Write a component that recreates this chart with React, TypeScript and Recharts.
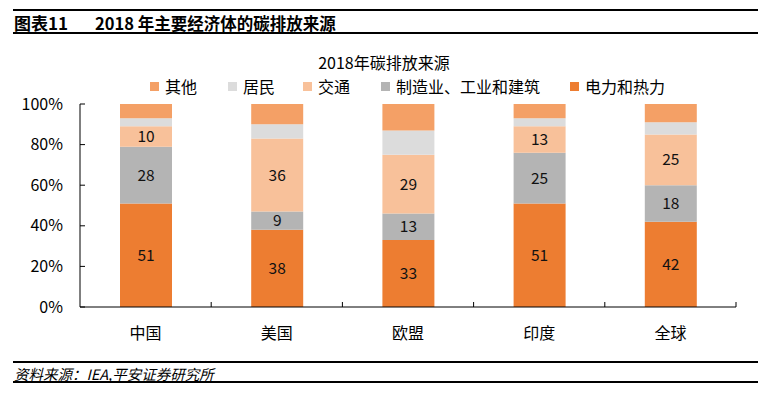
import React from 'react'
import { BarChart, Bar, XAxis, YAxis, LabelList } from 'recharts'

// 2018年碳排放来源 (%)
const regions = ['中国', '美国', '欧盟', '印度', '全球']
const power = [51, 38, 33, 51, 42]        // 电力和热力
const industry = [28, 9, 13, 25, 18]      // 制造业、工业和建筑
const transport = [10, 36, 29, 13, 25]    // 交通
const residential = [4, 7, 12, 4, 6]      // 居民
const other = [7, 10, 13, 7, 9]           // 其他
const yTicks = [0, 20, 40, 60, 80, 100]

const COLS = {
  power: '#ED7D31',
  industry: '#B4B4B4',
  transport: '#F8C19A',
  residential: '#DCDCDC',
  other: '#F4A066',
}

const FONT = '"Noto Sans CJK SC", "Noto Sans", sans-serif'

const data = regions.map((name, i) => ({
  name,
  power: power[i],
  industry: industry[i],
  transport: transport[i],
  residential: residential[i],
  other: other[i],
}))

// legend order as in the picture, with left edge of each swatch
const LEGEND = [
  { label: '其他', color: COLS.other, left: 150 },
  { label: '居民', color: COLS.residential, left: 228 },
  { label: '交通', color: COLS.transport, left: 303 },
  { label: '制造业、工业和建筑', color: COLS.industry, left: 381 },
  { label: '电力和热力', color: COLS.power, left: 570 },
]

const BAND = (736 - 80) / regions.length

const YTick = (props: any) => {
  const { y, payload } = props
  return (
    <g>
      <line x1={80} x2={85} y1={y} y2={y} stroke="#000" strokeWidth={1} />
      <text x={63} y={y} dy={5.5} textAnchor="end" fontSize={16} fill="#000" fontFamily={FONT}>
        {payload.value}%
      </text>
    </g>
  )
}

const XTick = (props: any) => {
  const { x, payload } = props
  const bx = x + BAND / 2
  return (
    <g>
      <line x1={bx} x2={bx} y1={302} y2={307} stroke="#000" strokeWidth={1} />
      <text x={x} y={339} textAnchor="middle" fontSize={16} fill="#000" fontFamily={FONT}>
        {payload.value}
      </text>
    </g>
  )
}

export default function App() {
  const lbl = { fill: '#111', fontSize: 15.5, fontFamily: FONT }
  return (
    <div style={{ position: 'relative', width: 776, height: 393, background: '#fff', fontFamily: FONT }}>
      <style>{`body{margin:0}`}</style>
      {/* header */}
      <div style={{ position: 'absolute', left: 13, right: 18, top: 9, height: 2, background: '#000' }} />
      <div style={{ position: 'absolute', left: 14, top: 10, fontSize: 17, fontWeight: 700, color: '#000', whiteSpace: 'nowrap' }}>
        图表11
      </div>
      <div style={{ position: 'absolute', left: 95, top: 11, fontSize: 16.5, fontWeight: 700, color: '#000', whiteSpace: 'nowrap' }}>
        2018 年主要经济体的碳排放来源
      </div>
      <div style={{ position: 'absolute', left: 13, right: 18, top: 32, height: 2, background: '#000' }} />

      {/* chart title + legend */}
      <div style={{ position: 'absolute', left: 284, width: 200, top: 50, textAlign: 'center', fontSize: 16, color: '#000' }}>
        2018年碳排放来源
      </div>
      {LEGEND.map(l => (
        <div key={l.label} style={{ position: 'absolute', left: l.left, top: 75, display: 'flex', alignItems: 'center', whiteSpace: 'nowrap' }}>
          <span style={{ display: 'inline-block', width: 9, height: 9, background: l.color, marginRight: 6 }} />
          <span style={{ fontSize: 16, color: '#000', lineHeight: '22px' }}>{l.label}</span>
        </div>
      ))}

      <div style={{ position: 'absolute', left: 0, top: 0 }}>
        <BarChart width={776} height={393} data={data} margin={{ top: 104, right: 40, bottom: 56, left: 20 }} barSize={52}>
          <XAxis dataKey="name" height={30} axisLine={{ stroke: '#000', strokeWidth: 1 }} tickLine={false} tick={<XTick />} interval={0} />
          <YAxis domain={[0, 100]} ticks={yTicks} width={60} axisLine={{ stroke: '#000', strokeWidth: 1 }} tickLine={false} tick={<YTick />} />
          <Bar dataKey="power" stackId="s" fill={COLS.power} isAnimationActive={false}>
            <LabelList dataKey="power" position="center" style={lbl} />
          </Bar>
          <Bar dataKey="industry" stackId="s" fill={COLS.industry} isAnimationActive={false}>
            <LabelList dataKey="industry" position="center" style={lbl} />
          </Bar>
          <Bar dataKey="transport" stackId="s" fill={COLS.transport} isAnimationActive={false}>
            <LabelList dataKey="transport" position="center" style={lbl} />
          </Bar>
          <Bar dataKey="residential" stackId="s" fill={COLS.residential} isAnimationActive={false} />
          <Bar dataKey="other" stackId="s" fill={COLS.other} isAnimationActive={false} />
        </BarChart>
      </div>

      {/* footer */}
      <div style={{ position: 'absolute', left: 13, right: 18, top: 361, height: 1.5, background: '#000' }} />
      <div style={{ position: 'absolute', left: 14, top: 363, fontSize: 14.5, fontStyle: 'italic', color: '#000', whiteSpace: 'nowrap' }}>
        资料来源：IEA,平安证券研究所
      </div>
      <div style={{ position: 'absolute', left: 13, right: 18, top: 381, height: 1.5, background: '#000' }} />
    </div>
  )
}
